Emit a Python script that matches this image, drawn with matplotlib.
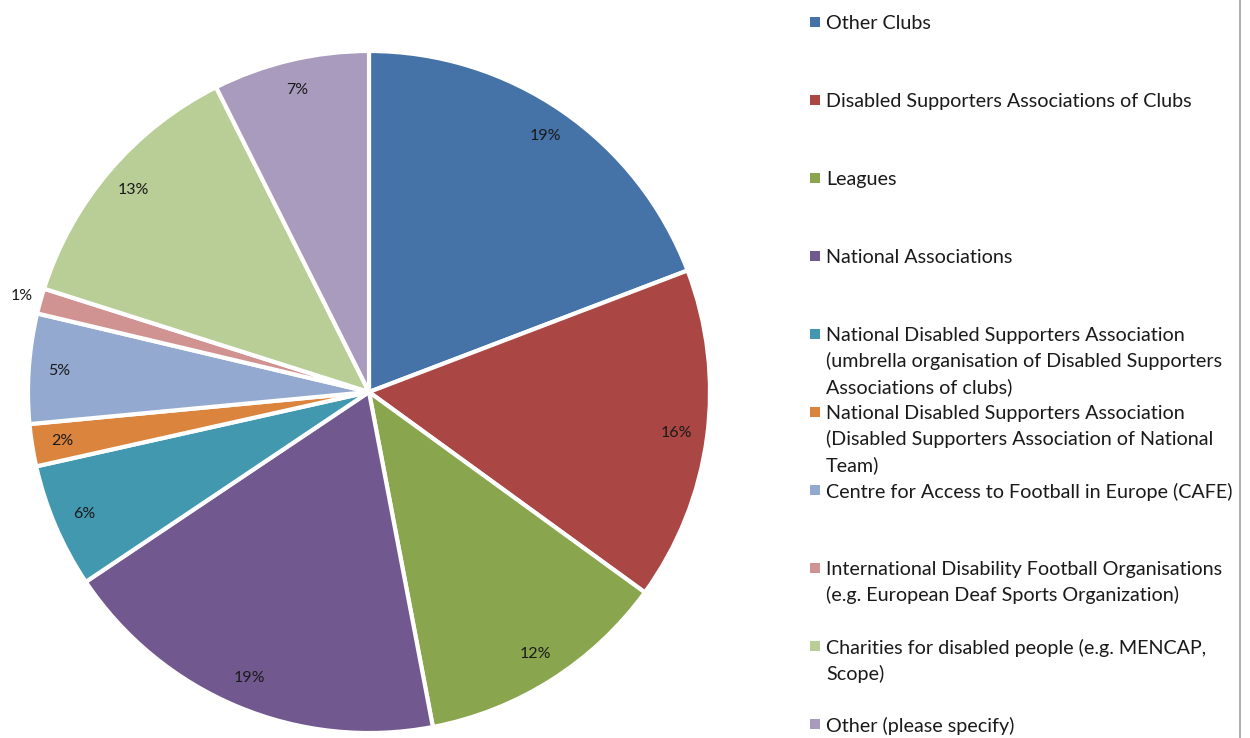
import matplotlib
matplotlib.use("Agg")
import matplotlib.pyplot as plt
from matplotlib.patches import Rectangle
from matplotlib.lines import Line2D

plt.rcParams["font.family"] = ["Lato", "DejaVu Sans"]

labels = [
    "Other Clubs",
    "Disabled Supporters Associations of Clubs",
    "Leagues",
    "National Associations",
    "National Disabled Supporters Association\n(umbrella organisation of Disabled Supporters\nAssociations of clubs)",
    "National Disabled Supporters Association\n(Disabled Supporters Association of National\nTeam)",
    "Centre for Access to Football in Europe (CAFE)",
    "International Disability Football Organisations\n(e.g. European Deaf Sports Organization)",
    "Charities for disabled people (e.g. MENCAP,\nScope)",
    "Other (please specify)",
]
# shares (labels are the rounded values)
shares = [19.2, 15.8, 12.0, 18.6, 5.9, 2.0, 5.2, 1.2, 12.7, 7.4]
colors = ["#4572A7", "#AA4643", "#89A54E", "#71588F", "#4198AF",
          "#DB843D", "#93A9CF", "#D19392", "#B9CD96", "#A99BBD"]

W, H = 1250, 738
fig = plt.figure(figsize=(12.5, 7.38), dpi=100)

# pie: centre (369, 392) px, radius 341 px
cx, cy, r = 369, 392, 341
ax = fig.add_axes([(cx - r) / W, (H - cy - r) / H, 2 * r / W, 2 * r / H])
wedges, texts, autotexts = ax.pie(
    shares, colors=colors, startangle=90, counterclock=False, radius=1,
    autopct="%.0f%%", pctdistance=0.91,
    wedgeprops=dict(edgecolor="white", linewidth=3),
    textprops=dict(fontsize=11.5, color="#1a1a1a"),
)
# the 1% label sits just outside its slice
px, py = autotexts[7].get_position()
autotexts[7].set_position((px * 1.16, py * 1.16))
ax.set_xlim(-1, 1)
ax.set_ylim(-1, 1)
ax.axis("off")

# legend drawn by hand: one entry every 78 px
lx, ty, step = 810, 22, 78
for i, (lab, col) in enumerate(zip(labels, colors)):
    y = ty + step * i
    fig.patches.append(Rectangle((lx / W, 1 - (y + 5) / H), 10 / W, 10 / H,
                                 transform=fig.transFigure, facecolor=col,
                                 edgecolor="none"))
    fig.text((lx + 16) / W, 1 - (y - 7) / H, lab, fontsize=14.2,
             va="top", ha="left", color="#1a1a1a", linespacing=1.53)

fig.lines.append(Line2D([1240 / W, 1240 / W], [0, 1], transform=fig.transFigure,
                        color="#a0a0a0", linewidth=1.2))

fig.savefig("out.png", dpi=100)
